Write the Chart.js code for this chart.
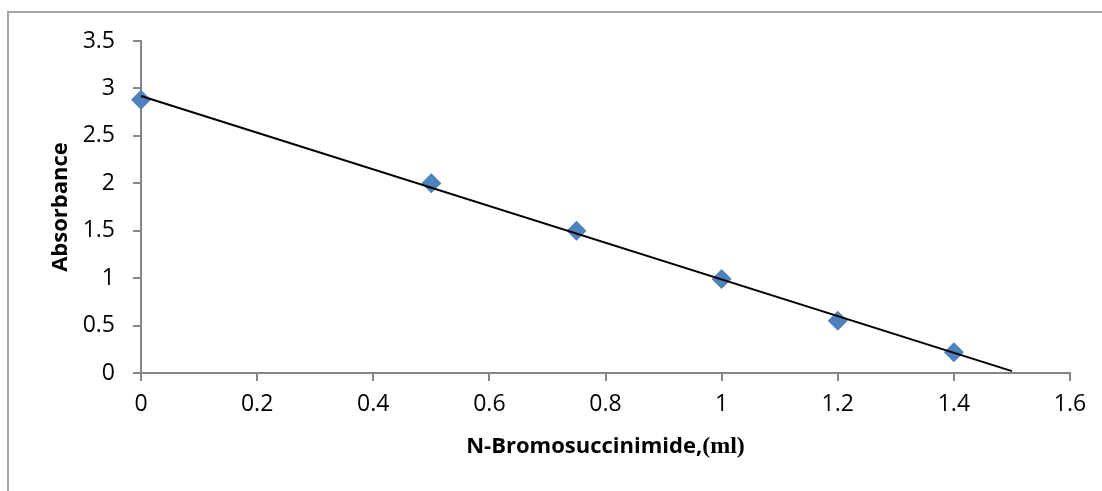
<!DOCTYPE html>
<html>
<head>
<meta charset="utf-8">
<script src="https://cdn.jsdelivr.net/npm/chart.js@4"></script>
<style>
  html, body { margin: 0; padding: 0; width: 1102px; height: 491px; overflow: hidden; background: #fff; }
  #frame { position: absolute; left: 7px; top: 11px; width: 1300px; height: 700px; border-left: 2px solid #a6a6a6; border-top: 2px solid #a6a6a6; }
  #wrap { position: absolute; left: 0; top: 0; width: 1102px; height: 491px; }
</style>
</head>
<body>
<div id="frame"></div>
<div id="wrap"><canvas id="c" width="1102" height="491"></canvas></div>
<script>
// Data
const nbsVolume = [0, 0.5, 0.75, 1.0, 1.2, 1.4];
const absorbance = [2.88, 2.0, 1.5, 0.99, 0.55, 0.22];
const trendX = [0, 1.5];
const trendY = [2.92, 0.02];
const xTicks = [0, 0.2, 0.4, 0.6, 0.8, 1, 1.2, 1.4, 1.6];
const yTicks = [0, 0.5, 1, 1.5, 2, 2.5, 3, 3.5];
const xTitle = "N-Bromosuccinimide,";
const xTitleUnit = "(ml)";
const yTitle = "Absorbance";

const tickFont = { family: "'Open Sans', 'Liberation Sans', sans-serif", size: 23 };

const titlePlugin = {
  id: 'axisTitles',
  afterDraw(chart) {
    const ctx = chart.ctx;
    const a = chart.chartArea;
    ctx.save();
    ctx.fillStyle = '#000';
    const f1 = "bold 22px 'Open Sans', 'Liberation Sans', sans-serif";
    const f2 = "bold 24px 'Liberation Serif', 'DejaVu Serif', serif";
    ctx.font = f1; const w1 = ctx.measureText(xTitle).width;
    ctx.font = f2; const w2 = ctx.measureText(xTitleUnit).width;
    const cx = (a.left + a.right) / 2;
    const x0 = cx - (w1 + w2) / 2;
    const yBase = 453;
    ctx.textBaseline = 'alphabetic';
    ctx.textAlign = 'left';
    ctx.font = f1; ctx.fillText(xTitle, x0, yBase);
    ctx.font = f2; ctx.fillText(xTitleUnit, x0 + w1, yBase);
    // y title rotated
    ctx.translate(67, (a.top + a.bottom) / 2);
    ctx.rotate(-Math.PI / 2);
    ctx.font = f1;
    ctx.textAlign = 'center';
    ctx.fillText(yTitle, 0, 0);
    ctx.restore();
  }
};

new Chart(document.getElementById('c'), {
  type: 'scatter',
  data: {
    datasets: [
      {
        data: nbsVolume.map((x, i) => ({ x, y: absorbance[i] })),
        pointStyle: 'rectRot',
        pointRadius: 10,
        pointHoverRadius: 10,
        backgroundColor: '#4F81BD',
        borderColor: '#4F81BD',
        borderWidth: 0,
        clip: false,
        order: 2
      },
      {
        data: trendX.map((x, i) => ({ x, y: trendY[i] })),
        showLine: true,
        pointRadius: 0,
        borderColor: '#000',
        borderWidth: 2,
        clip: false,
        order: 1
      }
    ]
  },
  options: {
    responsive: false,
    animation: false,
    events: [],
    layout: { padding: { top: 41, right: 32, left: 0, bottom: 0 } },
    plugins: { legend: { display: false }, tooltip: { enabled: false } },
    scales: {
      x: {
        type: 'linear',
        min: 0, max: 1.6,
        afterBuildTicks(s) { s.ticks = xTicks.map(v => ({ value: v })); },
        afterFit(s) { s.height = 118; },
        ticks: { font: tickFont, color: '#000', padding: 10, callback: v => String(v) },
        grid: { drawOnChartArea: false, drawTicks: true, tickLength: 8, color: '#868686', lineWidth: 2 },
        border: { color: '#868686', width: 2 }
      },
      y: {
        type: 'linear',
        min: 0, max: 3.5,
        afterBuildTicks(s) { s.ticks = yTicks.map(v => ({ value: v })); },
        afterFit(s) { s.width = 141; },
        ticks: { font: tickFont, color: '#000', padding: 18, callback: v => String(v) },
        grid: { drawOnChartArea: false, drawTicks: true, tickLength: 8, color: '#868686', lineWidth: 2 },
        border: { color: '#868686', width: 2 }
      }
    }
  },
  plugins: [titlePlugin]
});
</script>
</body>
</html>
